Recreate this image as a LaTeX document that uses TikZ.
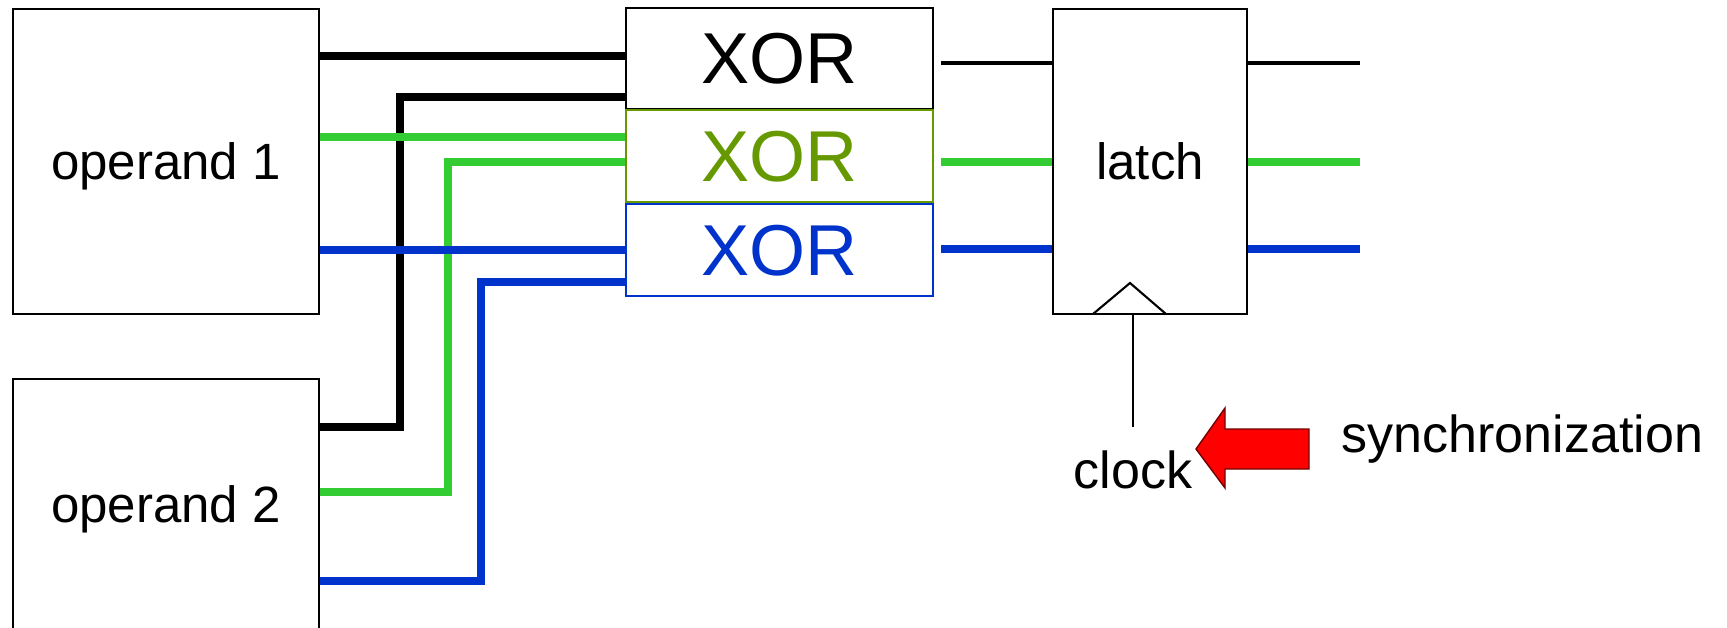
\documentclass[tikz,border=0pt]{standalone}
\usepackage{fontspec}
\setmainfont{Liberation Sans}

\definecolor{wiregreen}{RGB}{51,204,51}
\definecolor{xorgreen}{RGB}{102,153,0}
\definecolor{wireblue}{RGB}{0,51,204}

\newcommand*{\picw}{1727}
\newcommand*{\pich}{627}

\begin{document}
\begin{tikzpicture}
[
	box/.style={draw,rectangle,inner sep=0pt,line width=0.6pt,font=\fontsize{14.5}{17}\selectfont,text depth=0pt},
	xorbox/.style={box,minimum width=3.07cm,font=\fontsize{20.5}{24}\selectfont},
	fatwire/.style={line width=0.073cm},
	thinwire/.style={line width=0.033cm},
	lbl/.style={inner sep=0pt,font=\fontsize{14.8}{17}\selectfont},
	x=0.01cm,y=-0.01cm
]
	\useasboundingbox (0,0) rectangle (\picw,\pich);

	% operands
	\node[box,minimum width=3.06cm,minimum height=3.05cm] (op1) at (166,161.5) {operand 1};
	\node[box,minimum width=3.06cm,minimum height=2.51cm] (op2) at (166,504.5) {operand 2};

	% xor gates
	\node[xorbox,minimum height=1.01cm] (xor1) at (779.5,58.5) {XOR};
	\node[xorbox,minimum height=0.92cm,draw=xorgreen,text=xorgreen] (xor2) at (779.5,156) {XOR};
	\node[xorbox,minimum height=0.92cm,draw=wireblue,text=wireblue] (xor3) at (779.5,250) {XOR};

	% latch
	\node[box,minimum width=1.94cm,minimum height=3.05cm] (latch) at (1150,161.5) {latch};
	\coordinate (out) at (1360,0);

	% wires from operand 2
	\draw[fatwire] (op2.east |- 0,427) -| (400,97) -- (xor1.west |- 0,97);
	\draw[fatwire,wiregreen] (op2.east |- 0,492) -| (448,162) -- (xor2.west |- 0,162);
	\draw[fatwire,wireblue] (op2.east |- 0,581) -| (481,282) -- (xor3.west |- 0,282);

	% wires from operand 1
	\draw[fatwire] (op1.east |- 0,56) -- (xor1.west |- 0,56);
	\draw[fatwire,wiregreen] (op1.east |- 0,137) -- (xor2.west |- 0,137);
	\draw[fatwire,wireblue] (op1.east |- 0,250) -- (xor3.west |- 0,250);

	% xor to latch
	\draw[thinwire,shorten <=0.07cm] (xor1.east |- 0,63) -- (latch.west |- 0,63);
	\draw[fatwire,wiregreen,shorten <=0.07cm] (xor2.east |- 0,162) -- (latch.west |- 0,162);
	\draw[fatwire,wireblue,shorten <=0.07cm] (xor3.east |- 0,249) -- (latch.west |- 0,249);

	% latch outputs
	\draw[thinwire] (latch.east |- 0,63) -- (out |- 0,63);
	\draw[fatwire,wiregreen] (latch.east |- 0,162) -- (out |- 0,162);
	\draw[fatwire,wireblue] (latch.east |- 0,249) -- (out |- 0,249);

	% clock
	\draw[line width=0.6pt] (1093,314) -- (1130,283) -- (1166,314);
	\node[lbl,anchor=base] (clock) at (1133,488) {clock};
	\draw[line width=0.6pt] (latch.south -| clock) -- ([yshift=0.23cm]clock.north);

	% synchronization
	\node[lbl,anchor=base west] (sync) at (1341,452) {synchronization};
	\filldraw[fill=red,draw=red!45!black,line width=0.4pt] (1196,449) -- (1225,408) -- (1225,429) -- (1309,429)
		-- (1309,469) -- (1225,469) -- (1225,488) -- cycle;

\end{tikzpicture}
\end{document}
